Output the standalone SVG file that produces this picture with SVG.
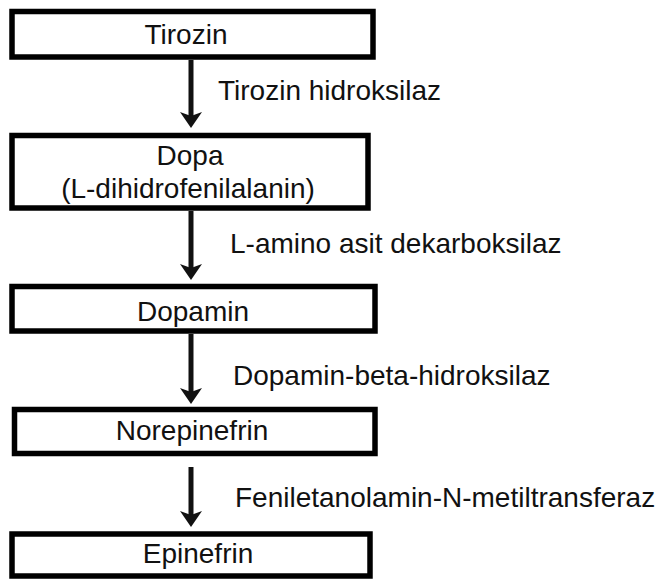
<svg xmlns="http://www.w3.org/2000/svg" width="659" height="583" viewBox="0 0 659 583">
  <style>
    .box { fill: #ffffff; stroke: #000000; stroke-width: 5.5; }
    .t { font-family: "Liberation Sans", Arial, sans-serif; font-size: 28px; fill: #111111; }
    .c { text-anchor: middle; }
    .conn { stroke: #111111; stroke-width: 5; fill: none; marker-end: url(#ah); }
  </style>
  <defs>
    <marker id="ah" markerUnits="userSpaceOnUse" markerWidth="16" markerHeight="22" viewBox="0 -11 16 22" refX="8" refY="0" orient="auto">
      <path d="M0,-11 L16,0 L0,11 L4,0 Z" fill="#111111"/>
    </marker>
  </defs>
  <rect width="659" height="583" fill="#ffffff"/>

  <g id="connectors">
    <line class="conn" x1="191" y1="60" x2="191" y2="120"/>
    <line class="conn" x1="191" y1="211" x2="191" y2="272"/>
    <line class="conn" x1="191" y1="334" x2="191" y2="396"/>
    <line class="conn" x1="191" y1="467" x2="191" y2="519"/>
    <text class="t" x="218" y="100">Tirozin hidroksilaz</text>
    <text class="t" x="230" y="252.5">L-amino asit dekarboksilaz</text>
    <text class="t" x="233" y="385">Dopamin-beta-hidroksilaz</text>
    <text class="t" x="235" y="506.5">Feniletanolamin-N-metiltransferaz</text>
  </g>

  <g id="tirozin">
    <rect class="box" x="12" y="11.5" width="361" height="45.5"/>
    <text class="t c" x="186" y="44">Tirozin</text>
  </g>
  <g id="dopa">
    <rect class="box" x="12" y="135.5" width="356" height="72.5"/>
    <text class="t c" x="190" y="165">Dopa</text>
    <text class="t c" x="188" y="198">(L-dihidrofenilalanin)</text>
  </g>
  <g id="dopamin">
    <rect class="box" x="12" y="286.5" width="363" height="44.5"/>
    <text class="t c" x="193" y="320.5">Dopamin</text>
  </g>
  <g id="norepinefrin">
    <rect class="box" x="14.5" y="409.5" width="360.5" height="44"/>
    <text class="t c" x="192" y="440">Norepinefrin</text>
  </g>
  <g id="epinefrin">
    <rect class="box" x="12" y="534" width="358" height="42"/>
    <text class="t c" x="198" y="563">Epinefrin</text>
  </g>
</svg>
